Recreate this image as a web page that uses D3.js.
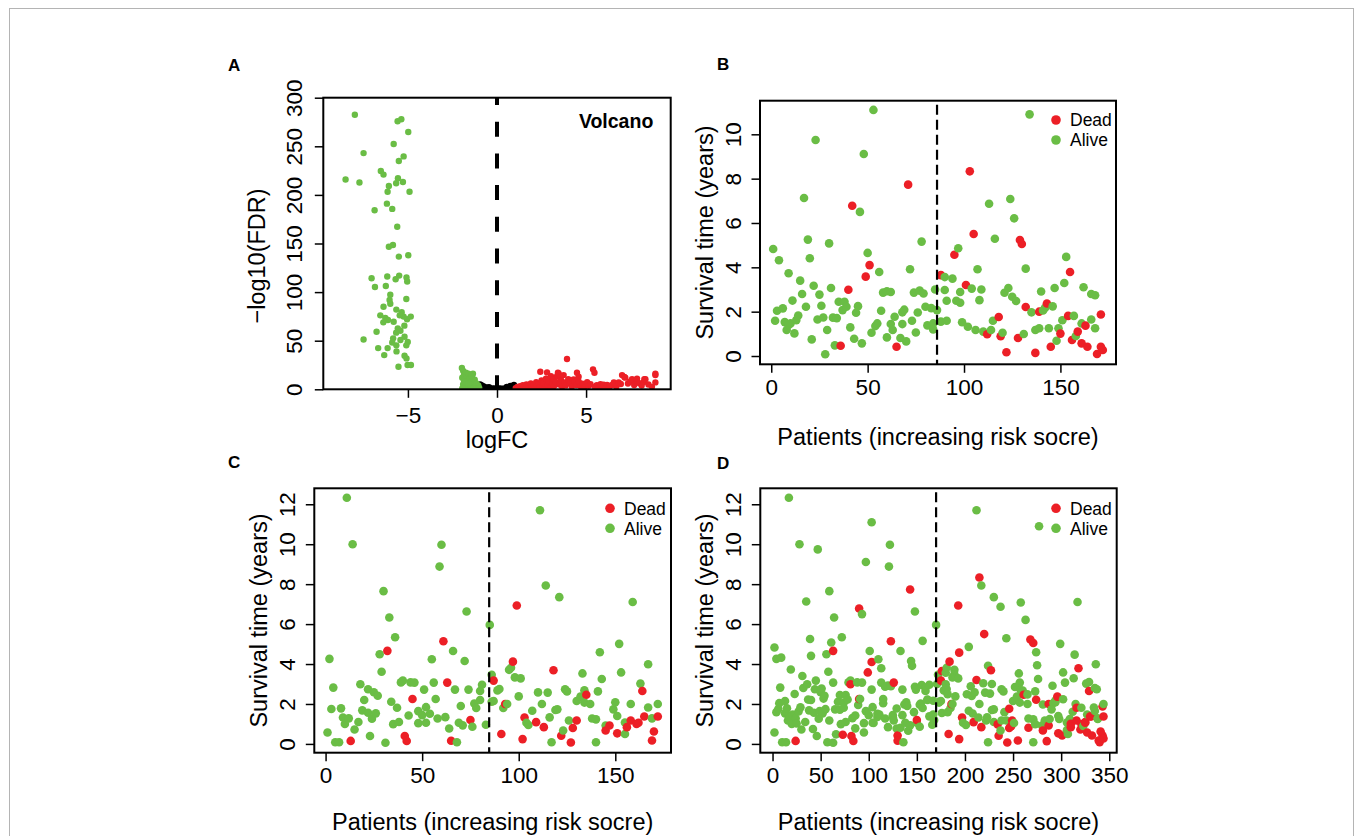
<!DOCTYPE html>
<html><head><meta charset="utf-8">
<script src="https://cdn.jsdelivr.net/npm/d3@7"></script>
<style>body{margin:0;background:#fff}svg{display:block;font-family:"Liberation Sans",Arial,Helvetica,sans-serif}</style>
</head><body><svg id="c" width="1357" height="836"></svg>
<script>
const RED = "#ec1f26", GREEN = "#6abd45";

// ---------- Panel A (volcano) data: [logFC, -log10(FDR)] ----------
const aDownStrong = [[-7.98,282.5],[-5.58,275.7],[-5.37,277.8],[-4.98,264.7],[-5.8,252.3],[-7.49,243],[-5.24,239.6],[-5.51,234.8],[-6.52,224.7],[-6.37,220.9],[-8.5,215.8],[-7.72,212.8],[-5.56,217.1],[-5.28,213.3],[-5.66,212],[-6.07,209.2],[-6.14,203.2],[-4.91,203.2],[-6.18,191],[-5.88,185.6],[-6.87,184.2],[-5.6,167.3],[-6.07,146.7],[-5.84,148.5],[-5.51,136.5],[-4.98,137.9],[-7.04,114.2],[-6.85,105.3],[-6.16,116],[-5.69,113.2],[-5.49,117],[-5.08,115],[-5.04,110.9],[-6.24,106.3],[-5.99,97.4],[-5.09,92.9],[-6.03,91.8],[-5.99,88],[-6.37,85],[-6.55,76.1],[-6.27,73.3],[-6.12,71.3],[-6.38,68.9],[-5.8,69.5],[-5.65,82],[-5.35,79.2],[-5.24,74.8],[-5.05,72],[-4.84,74.8],[-5.46,76.1],[-5.57,62.7],[-5.42,60.3],[-5.66,58.3],[-5.2,65.5],[-5.19,54.1],[-5.42,50.7],[-5.83,52.4],[-5.01,48.6],[-5.09,45.2],[-5.65,45.2],[-5.88,48.2],[-6.76,59.2],[-7.49,51.3],[-6.67,42.4],[-6.14,42.4],[-6.33,35.2],[-5.64,39],[-5.19,34.5],[-5.08,31.8],[-5.02,25],[-4.83,25],[-5.53,23.2]];
const aDownWeak = [[-1.97,22],[-1.9,19],[-1.85,15],[-1.95,12],[-1.8,10],[-1.75,17],[-1.7,13],[-1.65,8],[-1.6,16],[-1.55,11],[-1.5,6],[-1.45,9],[-1.4,13],[-1.35,4],[-1.3,7],[-1.25,10],[-1.2,3],[-1.15,6],[-1.1,2],[-1.05,4],[-1.9,5],[-1.8,3],[-1.7,1],[-1.6,3],[-1.95,1],[-1.5,2],[-1.4,1],[-1.3,1.5],[-1.2,0.8],[-1.1,0.5],[-1.0,1.5],[-1.85,8],[-1.6,6],[-1.35,16],[-1.45,14]];
const aNotSig = [[-0.95,5],[-0.9,3],[-0.85,4],[-0.8,2],[-0.75,3],[-0.7,1.5],[-0.6,2],[-0.55,1],[-0.5,1.2],[-0.4,0.6],[-0.3,0.8],[-0.2,0.3],[-0.1,0.2],[0,0.1],[0.1,0.3],[0.2,0.4],[0.3,0.7],[0.4,0.5],[0.5,1],[0.6,1.5],[0.7,1.2],[0.8,2.5],[0.9,3],[0.95,4.5],[-0.65,0.4],[-0.35,0.2],[0.35,0.2],[0.65,0.5],[0.85,1],[-0.85,1],[-0.15,1],[0.15,0.8],[0.55,2.5],[-0.45,2.2],[0.75,3.5],[-0.95,2],[0.95,1.5]];
const aUp = [[1.05,1.2],[1.15,2.5],[1.2,0.8],[1.3,3.1],[1.35,1.5],[1.45,4.2],[1.5,2.2],[1.6,0.9],[1.65,5.1],[1.75,3.0],[1.8,1.4],[1.9,6.0],[1.95,2.6],[2.05,4.4],[2.1,1.1],[2.2,7.2],[2.25,3.5],[2.35,5.6],[2.4,1.8],[2.43,18.1],[2.5,9.0],[2.55,3.2],[2.6,6.5],[2.7,2.0],[2.75,11.0],[2.81,17.4],[2.85,4.8],[2.9,8.0],[3.0,1.5],[3.03,13.5],[3.1,6.2],[3.15,10.5],[3.2,3.4],[3.3,7.5],[3.37,13.6],[3.42,17],[3.46,16.4],[3.5,5.0],[3.56,12],[3.6,9.0],[3.65,2.5],[3.74,14.6],[3.8,7.0],[3.85,4.0],[3.93,31.2],[4.0,10.5],[4.1,6.0],[4.2,2.8],[4.3,10.2],[4.35,8.2],[4.45,4.4],[4.49,17],[4.58,12.9],[4.59,7.9],[4.7,3.1],[4.8,5.8],[4.9,1.5],[5.06,7.2],[5.15,3.6],[5.25,5.2],[5.39,20.5],[5.47,17],[5.5,2.4],[5.6,4.2],[5.7,1.2],[5.81,5.3],[5.9,2.8],[5.99,4.8],[6.1,1.6],[6.18,4.6],[6.3,2.2],[6.46,4.5],[6.56,7.0],[6.7,3.0],[6.83,7.1],[6.95,5.5],[7.02,14.6],[7.15,12.6],[7.2,12],[7.35,6.0],[7.48,8.1],[7.58,10.3],[7.7,4.5],[7.85,8.8],[7.86,11],[8.0,6.2],[8.12,3.8],[8.24,7.6],[8.27,10.5],[8.33,10.3],[8.5,5.0],[8.7,2.5],[8.89,14.6],[8.89,7.1],[8.89,16]];
const aXTicks = [-5, 0, 5];
const aYTicks = [0, 50, 100, 150, 200, 250, 300];

// ---------- Panel B data: [patient rank, survival years] ----------
const bAlive = [[1,4.83],[2,1.59],[3,2.04],[4,4.32],[6,2.15],[7,1.53],[8,1.17],[9,1.4],[9,3.73],[10,1.47],[11,2.5],[12,1.02],[13,1.62],[14,1.83],[15,3.4],[16,2.8],[17,7.13],[18,2.22],[19,5.25],[20,4.41],[21,0.75],[22,3.17],[23,9.74],[24,1.65],[25,2.77],[26,2.27],[27,1.74],[28,0.08],[29,1.17],[30,5.08],[31,3.07],[32,1.73],[33,0.48],[34,1.71],[35,2.45],[37,2.07],[38,2.45],[39,2.22],[41,1.29],[43,0.78],[44,1.95],[45,2.25],[46,6.5],[47,0.57],[48,9.11],[50,4.65],[52,1.05],[53,11.1],[54,1.35],[55,1.47],[56,3.79],[57,2.04],[58,2.86],[60,2.92],[60,0.84],[62,2.89],[62,1.44],[63,1.17],[64,1.77],[67,0.81],[68,1.44],[68,1.97],[69,2.09],[70,0.66],[72,3.91],[73,1.59],[74,2.86],[75,1.06],[76,1.96],[77,2.95],[78,5.16],[79,2.82],[80,2.22],[81,1.38],[83,2.16],[84,1.47],[84,1.2],[85,3.0],[86,2.07],[88,1.55],[90,3.56],[90,2.98],[91,1.59],[91,2.49],[94,3.49],[96,2.49],[97,4.86],[98,2.89],[98,2.4],[99,1.52],[102,1.32],[104,3.04],[106,1.17],[107,3.91],[108,2.52],[109,3.0],[110,1.1],[113,6.87],[114,1.17],[115,1.59],[116,5.29],[120,1.05],[121,2.85],[123,3.07],[124,7.08],[125,2.67],[126,6.21],[127,2.48],[131,0.99],[132,3.94],[134,10.9],[135,1.97],[137,1.17],[139,1.25],[140,2.91],[141,2.05],[142,2.17],[144,1.25],[146,2.24],[147,3.07],[148,0.69],[149,1.25],[151,1.61],[152,3.29],[153,4.47],[157,1.81],[158,0.9],[161,1.47],[162,3.1],[166,2.8],[166,1.65],[168,2.74],[168,1.25]];
const bDead = [[36,0.46],[40,2.99],[42,6.78],[49,3.58],[51,4.1],[65,0.42],[71,7.73],[88,3.65],[95,4.57],[101,3.2],[103,8.33],[105,5.5],[112,0.98],[118,1.76],[119,0.89],[122,0.17],[128,0.81],[129,5.23],[130,5.05],[132,2.21],[137,0.14],[139,2.0],[143,2.37],[145,0.42],[150,1.01],[154,1.81],[155,3.79],[156,0.72],[159,1.1],[161,0.57],[163,1.37],[164,0.42],[169,0.09],[171,0.42],[172,0.27],[171,1.87]];
const bXTicks = [0, 50, 100, 150];
const bYTicks = [0, 2, 4, 6, 8, 10];

// ---------- Panel C data ----------
const cAlive = [[1,0.57],[2,4.26],[3,1.75],[4,2.82],[5,0.08],[7,0.08],[8,1.78],[9,1.32],[10,1.0],[11,12.33],[12,1.28],[14,10.0],[15,0.72],[17,1.1],[18,2.99],[19,1.68],[20,2.2],[22,1.56],[22,2.74],[23,0.4],[24,1.26],[25,2.59],[26,1.53],[27,2.41],[28,4.49],[29,3.61],[30,7.65],[31,0.06],[33,6.33],[34,2.11],[35,0.99],[36,5.34],[37,1.81],[38,1.1],[39,3.08],[40,3.17],[43,1.42],[44,3.08],[46,3.07],[48,1.04],[48,1.64],[50,1.44],[51,2.72],[52,1.84],[52,1.06],[54,1.51],[55,4.24],[56,3.07],[57,2.25],[58,1.27],[59,8.88],[60,9.97],[62,1.34],[64,0.77],[66,4.65],[67,2.72],[68,0.08],[69,1.06],[70,1.9],[71,0.93],[72,4.15],[73,6.63],[74,2.72],[76,0.86],[77,2.02],[78,1.8],[80,2.65],[80,2.2],[81,2.96],[83,0.96],[85,5.96],[86,3.46],[86,2.11],[87,2.15],[89,2.68],[90,2.75],[92,1.8],[94,2.0],[95,3.71],[96,3.81],[98,3.33],[100,2.38],[101,3.28],[104,1.06],[105,0.95],[107,1.66],[110,2.58],[111,11.7],[112,2.0],[114,7.93],[115,2.57],[116,1.33],[117,0.08],[119,1.7],[120,1.73],[121,7.35],[123,0.67],[124,2.74],[125,2.63],[126,1.17],[130,2.15],[132,2.37],[133,3.53],[134,2.07],[134,2.69],[137,2.0],[138,1.27],[140,1.23],[140,0.08],[141,2.63],[142,4.59],[143,3.25],[145,0.92],[149,1.73],[150,2.09],[151,1.4],[152,5.01],[153,3.58],[155,1.07],[155,0.5],[158,2.0],[159,7.11],[163,3.02],[167,1.82],[167,3.99],[169,1.28],[172,2.0]];
const cDead = [[13,0.15],[32,4.66],[41,0.4],[42,0.15],[45,2.25],[61,5.14],[63,3.07],[65,0.16],[75,1.2],[87,3.17],[91,0.5],[93,2.0],[97,4.12],[99,6.93],[102,0.24],[103,1.32],[109,1.09],[113,0.84],[118,3.69],[122,0.41],[127,0.07],[128,0.8],[130,1.17],[135,2.46],[145,0.67],[147,0.92],[151,0.53],[156,0.84],[158,1.17],[161,1.0],[162,1.06],[164,2.65],[165,1.37],[169,0.17],[170,0.62],[172,1.37]];
const cXTicks = [0, 50, 100, 150];
const cYTicks = [0, 2, 4, 6, 8, 10, 12];

// ---------- Panel D data (all patients) ----------
const dAlive = [[2,4.83],[4,1.59],[7,2.04],[9,4.32],[13,2.15],[13,1.53],[16,1.17],[17,1.4],[19,3.73],[21,1.47],[23,2.5],[25,1.02],[27,1.62],[29,1.83],[31,3.4],[32,2.8],[35,7.13],[37,2.22],[39,5.25],[40,4.41],[42,0.75],[45,3.17],[47,9.74],[49,1.65],[51,2.77],[53,2.27],[55,1.74],[57,0.08],[59,1.17],[61,5.08],[63,3.07],[65,1.73],[66,0.48],[70,1.71],[70,2.45],[74,2.07],[76,2.45],[78,2.22],[83,1.29],[86,0.78],[89,1.95],[91,2.25],[93,6.5],[95,0.57],[97,9.11],[101,4.65],[105,1.05],[103,11.1],[109,1.35],[111,1.47],[113,3.79],[115,2.04],[117,2.86],[120,2.92],[120,0.84],[123,2.89],[125,1.44],[126,1.17],[129,1.77],[133,0.81],[135,1.44],[137,1.97],[139,2.09],[141,0.66],[145,3.91],[147,1.59],[148,2.86],[150,1.06],[153,1.96],[155,2.95],[156,5.16],[159,2.82],[161,2.22],[163,1.38],[167,2.16],[167,1.47],[168,1.2],[171,3.0],[173,2.07],[176,1.55],[180,3.56],[180,2.98],[182,1.59],[182,2.49],[189,3.49],[202,2.49],[204,4.86],[206,2.89],[207,2.4],[208,1.52],[214,1.32],[219,3.04],[222,1.17],[224,3.91],[226,2.52],[228,3.0],[230,1.1],[237,6.87],[238,1.17],[241,1.59],[243,5.29],[251,1.05],[252,2.85],[257,3.07],[258,7.08],[260,2.67],[263,6.21],[265,2.48],[273,0.99],[275,3.94],[277,10.9],[281,1.97],[283,1.17],[288,1.25],[291,2.91],[292,2.05],[294,2.17],[298,1.25],[302,2.24],[304,3.07],[306,0.69],[309,1.25],[312,1.61],[313,3.29],[314,4.47],[321,1.81],[323,0.9],[327,1.47],[329,3.1],[335,2.8],[335,1.65],[337,2.74],[338,1.25],
  [2,0.57],[4,4.26],[6,1.75],[8,2.82],[10,0.08],[14,0.08],[15,1.78],[18,1.32],[20,1.0],[17,12.33],[24,1.28],[28,10.0],[30,0.72],[34,1.1],[36,2.99],[38,1.68],[40,2.2],[43,1.56],[44,2.74],[46,0.4],[48,1.26],[50,2.59],[52,1.53],[54,2.41],[56,4.49],[58,3.61],[59,7.65],[63,0.06],[64,6.33],[68,2.11],[71,0.99],[72,5.34],[74,1.81],[76,1.1],[79,3.08],[81,3.17],[86,1.42],[88,3.08],[93,3.07],[95,1.04],[97,1.64],[100,1.44],[103,2.72],[104,1.84],[104,1.06],[109,1.51],[110,4.24],[113,3.07],[115,2.25],[117,1.27],[121,8.88],[122,9.97],[125,1.34],[129,0.77],[133,4.65],[135,2.72],[136,0.08],[138,1.06],[140,1.9],[143,0.93],[144,4.15],[148,6.63],[149,2.72],[153,0.86],[154,2.02],[156,1.8],[159,2.65],[161,2.2],[163,2.96],[166,0.96],[170,5.96],[172,3.46],[173,2.11],[175,2.15],[178,2.68],[181,2.75],[185,1.8],[187,2.0],[189,3.71],[181,3.81],[187,3.33],[190,2.38],[193,3.28],[198,1.06],[201,0.95],[204,1.66],[210,2.58],[212,11.7],[215,2.0],[217,7.93],[221,2.57],[223,1.33],[224,0.08],[228,1.7],[230,1.73],[230,7.35],[237,0.67],[238,2.74],[240,2.63],[243,1.17],[250,2.15],[254,2.37],[256,3.53],[257,2.07],[258,2.69],[265,2.0],[266,1.27],[271,1.23],[271,0.08],[273,2.63],[274,4.59],[276,3.25],[280,0.92],[290,1.73],[294,2.09],[297,1.4],[299,5.01],[302,3.58],[306,1.07],[307,0.5],[315,2.0],[317,7.11],[326,3.02],[334,1.82],[336,3.99],[338,1.28],[344,2.0]];
const dDead = [[73,0.46],[81,2.99],[90,6.78],[99,3.58],[103,4.1],[130,0.42],[143,7.73],[176,3.65],[194,4.57],[212,3.2],[215,8.33],[220,5.5],[234,0.98],[246,1.76],[248,0.89],[255,0.17],[266,0.81],[268,5.23],[271,5.05],[274,2.21],[285,0.14],[287,2.0],[296,2.37],[301,0.42],[310,1.01],[316,1.81],[318,3.79],[320,0.72],[325,1.1],[327,0.57],[331,1.37],[332,0.42],[340,0.09],[343,0.42],[344,0.27],[343,1.87],
  [24,0.15],[63,4.66],[82,0.4],[84,0.15],[90,2.25],[123,5.14],[126,3.07],[130,0.16],[150,1.2],[175,3.17],[183,0.5],[186,2.0],[184,4.12],[193,6.93],[194,0.24],[197,1.32],[209,1.09],[217,0.84],[227,3.69],[235,0.41],[244,0.07],[246,0.8],[249,1.17],[261,2.46],[281,0.67],[287,0.92],[297,0.53],[310,0.84],[316,1.17],[321,1.0],[325,1.06],[329,2.65],[330,1.37],[339,0.17],[341,0.62],[344,1.37]];
const dXTicks = [0, 50, 100, 150, 200, 250, 300, 350];
const dYTicks = [0, 2, 4, 6, 8, 10, 12];

const legendLabels = ["Dead", "Alive"];
const fmt = d => String(d).replace("-", "\u2212");

const svg = d3.select("#c");
svg.append("rect").attr("x", 9.5).attr("y", 8.5).attr("width", 1344).attr("height", 840)
  .attr("fill", "none").attr("stroke", "#b4b4b4").attr("stroke-width", 1);

function drawAxes(g, x, y, cfg) {
  const xa = g.append("g").attr("transform", `translate(0,${cfg.bottom})`)
    .call(d3.axisBottom(x).tickValues(cfg.xTicks).tickSize(8.5).tickSizeOuter(0).tickFormat(fmt));
  xa.select(".domain").remove();
  xa.selectAll("line").attr("stroke", "#000").attr("stroke-width", 1.5);
  xa.selectAll("text").attr("y", cfg.xLabOff).attr("dy", null)
    .attr("font-size", cfg.tickFont).attr("fill", "#000");
  const ya = g.append("g").attr("transform", `translate(${cfg.left},0)`)
    .call(d3.axisLeft(y).tickValues(cfg.yTicks).tickSize(8.5).tickSizeOuter(0).tickFormat(fmt));
  ya.select(".domain").remove();
  ya.selectAll("line").attr("stroke", "#000").attr("stroke-width", 1.5);
  ya.selectAll("text").attr("x", null).attr("dy", null).attr("text-anchor", "middle")
    .attr("transform", `translate(${-cfg.yLabOff},0) rotate(-90)`)
    .attr("font-size", cfg.tickFont).attr("fill", "#000");
  ya.attr("font-family", null); xa.attr("font-family", null);
  g.append("rect").attr("x", cfg.left).attr("y", cfg.top)
    .attr("width", cfg.right - cfg.left).attr("height", cfg.bottom - cfg.top)
    .attr("fill", "none").attr("stroke", "#000").attr("stroke-width", 2);
  g.append("text").attr("x", (cfg.left + cfg.right) / 2).attr("y", cfg.xTitleY)
    .attr("text-anchor", "middle").attr("font-size", cfg.titleFont).text(cfg.xTitle);
  const yMid = cfg.yTitleMid != null ? cfg.yTitleMid : (cfg.top + cfg.bottom) / 2;
  g.append("text").attr("transform", `translate(${cfg.yTitleX},${yMid}) rotate(-90)`)
    .attr("text-anchor", "middle").attr("font-size", cfg.titleFont).text(cfg.yTitle);
  g.append("text").attr("x", cfg.tagX).attr("y", cfg.tagY).attr("font-size", 17)
    .attr("font-weight", "bold").text(cfg.tag);
}

// ---------- Panel A ----------
(function () {
  const cfg = { left: 323.3, right: 670.7, top: 97.7, bottom: 389.3, xTicks: aXTicks, yTicks: aYTicks,
    xLabOff: 34, yLabOff: 21, tickFont: 22.5, titleFont: 23.5, xTitle: "logFC", yTitle: "\u2212log10(FDR)",
    xTitleY: 448.3, yTitleX: 265, yTitleMid: 256, tag: "A", tagX: 228, tagY: 71 };
  const g = svg.append("g");
  const x = d3.scaleLinear().domain([-9.75, 9.75]).range([cfg.left, cfg.right]);
  const y = d3.scaleLinear().domain([0, 300]).range([cfg.bottom, cfg.top]);
  svg.append("clipPath").attr("id", "clipA").append("rect")
    .attr("x", cfg.left).attr("y", cfg.top).attr("width", cfg.right - cfg.left).attr("height", cfg.bottom - cfg.top);
  const pts = g.append("g").attr("clip-path", "url(#clipA)");
  const groups = [[aNotSig, "#000"], [aDownWeak, GREEN], [aDownStrong, GREEN], [aUp, RED]];
  groups.forEach(([arr, col]) => {
    pts.selectAll(null).data(arr).join("circle")
      .attr("cx", d => x(d[0])).attr("cy", d => y(d[1])).attr("r", 3.2).attr("fill", col);
  });
  pts.append("line").attr("x1", x(0)).attr("x2", x(0)).attr("y1", cfg.top).attr("y2", cfg.bottom)
    .attr("stroke", "#000").attr("stroke-width", 4).attr("stroke-dasharray", "15,16.7").attr("stroke-dashoffset", 7.7);
  drawAxes(g, x, y, cfg);
  g.append("text").attr("x", 653.3).attr("y", 128.3).attr("text-anchor", "end")
    .attr("font-size", 19.5).attr("font-weight", "bold").text("Volcano");
})();

// ---------- Survival panels ----------
function survival(cfg) {
  const g = svg.append("g");
  const x = d3.scaleLinear().domain(cfg.xDom).range([cfg.left, cfg.right]);
  const y = d3.scaleLinear().domain(cfg.yDom).range([cfg.bottom, cfg.top]);
  const all = cfg.alive.map(d => [d[0], d[1], 0]).concat(cfg.dead.map(d => [d[0], d[1], 1]))
    .sort((a, b) => a[0] - b[0]);
  g.selectAll(null).data(all).join("circle")
    .attr("cx", d => x(d[0])).attr("cy", d => y(d[1])).attr("r", 4.3)
    .attr("fill", d => d[2] ? RED : GREEN);
  g.append("line").attr("x1", x(cfg.cut)).attr("x2", x(cfg.cut)).attr("y1", cfg.top).attr("y2", cfg.bottom)
    .attr("stroke", "#000").attr("stroke-width", 2.2).attr("stroke-dasharray", "10,5").attr("stroke-dashoffset", -4);
  drawAxes(g, x, y, cfg);
  const lg = g.append("g");
  legendLabels.forEach((lab, k) => {
    const ly = cfg.legY + k * 20;
    lg.append("circle").attr("cx", cfg.legX).attr("cy", ly).attr("r", 4.8).attr("fill", k === 0 ? RED : GREEN);
    lg.append("text").attr("x", cfg.legX + 14).attr("y", ly + 6.4).attr("font-size", 17.5).text(lab);
  });
}

const common = { xLabOff: 30.5, yLabOff: 19.5, tickFont: 22.5, titleFont: 23.5,
  xTitle: "Patients (increasing risk socre)", yTitle: "Survival time (years)" };

survival(Object.assign({}, common, { left: 760, right: 1116, top: 100.7, bottom: 364.3,
  xDom: [-5.84, 178.84], yDom: [-0.374, 11.516], xTicks: bXTicks, yTicks: bYTicks,
  alive: bAlive, dead: bDead, cut: 86, legX: 1056, legY: 120,
  xTitleY: 445, yTitleX: 713, tag: "B", tagX: 717, tagY: 70 }));

survival(Object.assign({}, common, { left: 314.3, right: 671, top: 488.3, bottom: 752.7,
  xDom: [-5.84, 178.84], yDom: [-0.44, 12.8], xTicks: cXTicks, yTicks: cYTicks,
  alive: cAlive, dead: cDead, cut: 84.7, legX: 610, legY: 508.3,
  xTitleY: 830, yTitleX: 267, tag: "C", tagX: 228, tagY: 468 }));

survival(Object.assign({}, common, { left: 760.3, right: 1116.7, top: 488.3, bottom: 752.7,
  xDom: [-12.72, 357.72], yDom: [-0.44, 12.8], xTicks: dXTicks, yTicks: dYTicks,
  alive: dAlive, dead: dDead, cut: 170, legX: 1056, legY: 508.3,
  xTitleY: 830, yTitleX: 713, tag: "D", tagX: 717, tagY: 469 }));
</script></body></html>
